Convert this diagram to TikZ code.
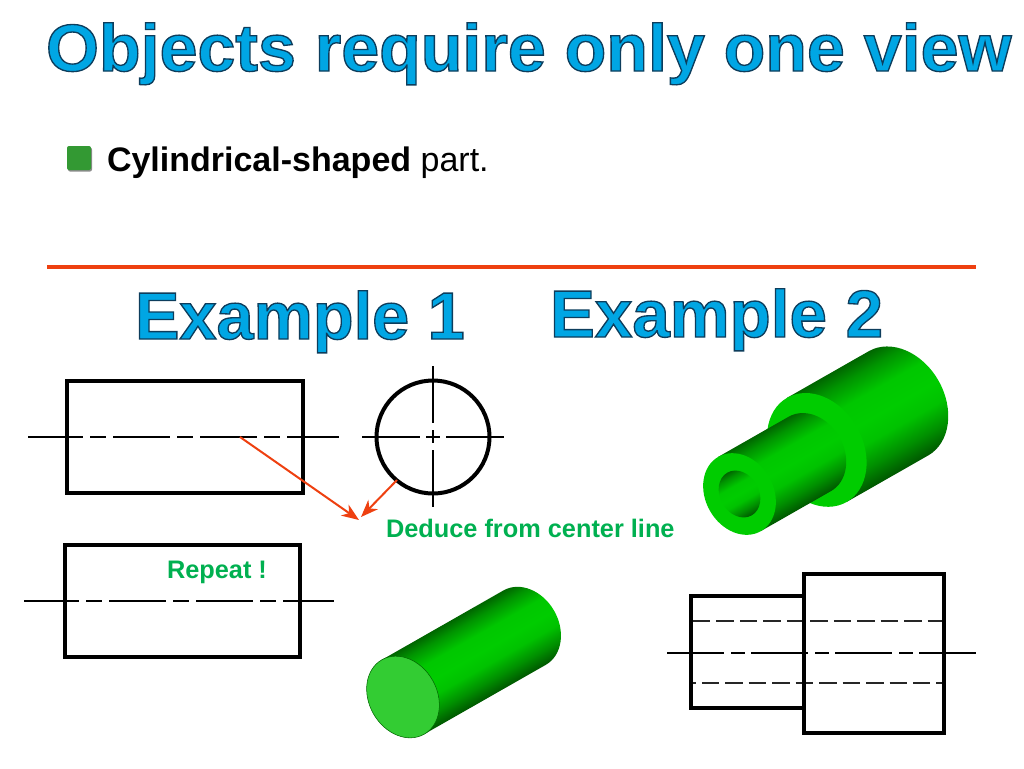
\documentclass[tikz,border=0pt]{standalone}
\usepackage{fontspec}
\setmainfont{Liberation Sans}
\usetikzlibrary{arrows.meta}
\definecolor{titleblue}{RGB}{0,166,228}
\definecolor{redline}{RGB}{238,64,16}
\definecolor{notegreen}{RGB}{0,176,80}
\definecolor{bulletgreen}{RGB}{51,153,51}
\definecolor{facegreen}{RGB}{0,204,0}
\definecolor{endgreen}{RGB}{51,204,51}
\pgfdeclareverticalshading{cylshade}{100bp}{
  color(0bp)=(green!34!black);
  color(25bp)=(green!34!black);
  color(33bp)=(green!56!black);
  color(42bp)=(green!76!black);
  color(50bp)=(green!80!black);
  color(60bp)=(green!78!black);
  color(69bp)=(green!58!black);
  color(75bp)=(green!40!black);
  color(100bp)=(green!40!black)}
\newcommand{\outlined}[1]{{\color{titleblue}\special{pdf:code 2 Tr 1.0 w 0.05 0.24 0.36 RG}#1\special{pdf:code 0 Tr}}}
\tikzset{
  every node/.style={inner sep=0pt,outer sep=0pt,anchor=base west},
  headtext/.style={font=\fontsize{50}{60}\selectfont\bfseries},
  notetext/.style={font=\fontsize{19}{23}\selectfont\bfseries,text=notegreen},
  outline/.style={line width=3pt,draw=black,miter limit=10},
  centre/.style={line width=1.5pt,draw=black,dash pattern=on 42.75pt off 5.25pt on 12pt off 5.25pt},
  hidden/.style={line width=1.5pt,draw=black!85,dash pattern=on 13.1pt off 4.5pt},
  leader/.style={line width=1.5pt,draw=redline,-{Stealth[length=13pt,width=10pt,inset=4pt]}},
  edgeline/.style={draw=green!40!black,line width=0.4pt},
  localframe/.style={x=0.75pt,y=0.75pt}
}
\begin{document}
\begin{tikzpicture}[x=0.75pt,y=-0.75pt]
\useasboundingbox (0,0) rectangle (1024,768);
% title
\node[headtext,xscale=1.022,transform shape] (title) at (46,71) {\outlined{Objects require only one view}};
% bullet
\fill[black!45,rounded corners=1.5pt] (68,147.5) rectangle (92,171.5);
\fill[bulletgreen,rounded corners=1.5pt] (67,146) rectangle (91,170);
\node[font=\fontsize{25.5}{30}\selectfont] (bullettext) at (107,171) {\textbf{Cylindrical-shaped} part.};
% separator
\coordinate (sepL) at (47,267);
\coordinate (sepR) at (976,267);
\draw[redline,line width=2.4pt] (sepL) -- (sepR);
\node[headtext] (ex1) at (135,339) {\outlined{Example 1}};
\node[headtext,xscale=1.01,transform shape] (ex2) at (550,337) {\outlined{Example 2}};
% example 1 views
\draw[outline] (67,381) rectangle (303,493);
\draw[centre,dash phase=1.5pt] (28,437) -- (339,437);
\draw[outline] (433,437) circle[radius=56.5];
\draw[line width=1.5pt,dash pattern=on 43.5pt off 4.5pt on 10.5pt off 4.5pt on 43.5pt] (362,437) -- (504,437);
\draw[line width=1.5pt,dash pattern=on 43pt off 5pt on 10pt off 5pt on 43pt] (433,366) -- (433,507);
\coordinate (tipA) at (359,520);
\coordinate (tipB) at (361,517);
\coordinate (startA) at (240,437);
\coordinate (startB) at (397,480);
\draw[leader] (startA) -- (tipA);
\draw[leader] (startB) -- (tipB);
\node[notetext] (deduce) at (386,537) {Deduce from center line};
% repeated view
\draw[outline] (65,545) rectangle (300,657);
\draw[centre,dash phase=1.5pt] (24,601) -- (334,601);
\node[notetext] (repeat) at (167,578) {Repeat !};
% solid cylinder
\begin{scope}[transform canvas={shift={(403,697)},rotate=29.7}]
\begin{scope}[localframe]
  \shade[shading=cylshade] (0,42.8) -- (140,42.8) arc[start angle=90,end angle=-90,x radius=34,y radius=42.8] -- (0,-42.8) -- cycle;
  \draw[edgeline,fill=endgreen] (0,0) ellipse[x radius=34,y radius=42.8];
\end{scope}
\end{scope}
% stepped part
\begin{scope}[transform canvas={shift={(739.5,494)},rotate=29.7}]
\begin{scope}[localframe]
  \shade[shading=cylshade] (89,60) -- (183,60) arc[start angle=90,end angle=-90,x radius=46,y radius=60] -- (89,-60) -- cycle;
  \fill[facegreen] (89,0) ellipse[x radius=46,y radius=60];
  \shade[shading=cylshade] (0,42.8) -- (81,42.8) arc[start angle=90,end angle=-90,x radius=34,y radius=42.8] -- (0,-42.8) -- cycle;
  \fill[facegreen] (0,0) ellipse[x radius=34,y radius=42.8];
  \shade[shading=cylshade] (0,0) ellipse[x radius=19.5,y radius=24.6];
\end{scope}
\end{scope}
% stepped part views
\draw[hidden,dash phase=0pt] (693,621) -- (942,621);
\draw[hidden,dash phase=11pt] (693,683) -- (942,683);
\draw[outline] (691,596) rectangle (804,708);
\draw[outline] (804,574) rectangle (944,733);
\draw[line width=1.5pt,dash pattern=on 42.75pt off 5.25pt on 10.5pt off 4.5pt] (667,653) -- (977,653);
\end{tikzpicture}
\end{document}
